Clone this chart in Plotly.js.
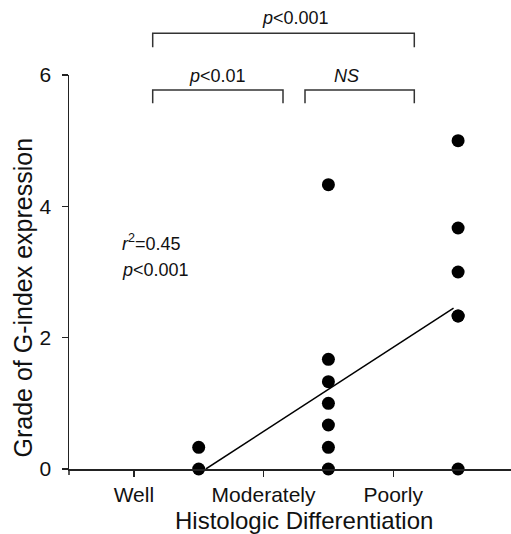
<!DOCTYPE html>
<html>
<head>
<meta charset="utf-8">
<script src="https://cdn.plot.ly/plotly-3.0.1.min.js"></script>
<style>html,body{margin:0;padding:0;background:#fff;}#chart{width:511px;height:534px;}</style>
</head>
<body>
<div id="chart"></div>
<script>
// ---- data ----
const categories = ['Well', 'Moderately', 'Poorly'];
const tickPositions = [1, 2, 3];
const wellGrades = [0.33, 0];
const moderateGrades = [4.33, 1.67, 1.33, 1.0, 0.67, 0.33, 0];
const poorGrades = [5.0, 3.67, 3.0, 2.33, 2.33, 0];
const fitX = [1.555, 3.465];
const fitY = [0, 2.45];
const yTicks = [0, 2, 4, 6];
const xTitle = 'Histologic Differentiation';
const yTitle = 'Grade of G-index expression';

const groups = [wellGrades, moderateGrades, poorGrades];
const px = [], py = [];
groups.forEach((g, i) => g.forEach(v => { px.push(tickPositions[i] + 0.5); py.push(v); }));

const font = 'Arial, "Liberation Sans", Helvetica, sans-serif';
const L = 69, R = 511, T = 75, B = 469;
const xp = p => (p - L) / (R - L);
const yp = p => (B - p) / (B - T);

const lineColor = '#222';
const bracketColor = '#333';
function bracket(x0, x1, yTop, yBot) {
  return {
    type: 'path', xref: 'paper', yref: 'paper',
    path: `M ${xp(x0)} ${yp(yBot)} L ${xp(x0)} ${yp(yTop)} L ${xp(x1)} ${yp(yTop)} L ${xp(x1)} ${yp(yBot)}`,
    line: {color: bracketColor, width: 1.5}
  };
}

const traces = [
  {x: px, y: py, type: 'scatter', mode: 'markers', cliponaxis: false,
   marker: {color: '#000', size: 13}, hoverinfo: 'none'},
  {x: fitX, y: fitY, type: 'scatter', mode: 'lines', cliponaxis: false,
   line: {color: '#000', width: 1.5}, hoverinfo: 'none'}
];

const annFont = {family: font, size: 18, color: '#111'};
const titleFont = {family: font, size: 24, color: '#111'};
const layout = {
  width: 511, height: 534,
  margin: {l: L, r: 0, t: T, b: 534 - B},
  paper_bgcolor: '#fff', plot_bgcolor: '#fff',
  showlegend: false,
  font: {family: font, color: '#111'},
  xaxis: {
    range: [0.5, 0.5 + (R - L) / 129.7],
    tickvals: tickPositions,
    ticktext: categories,
    ticks: 'outside', ticklen: 6, tickwidth: 1.5, tickcolor: lineColor,
    showline: true, linecolor: lineColor, linewidth: 1.5,
    showgrid: false, zeroline: false,
    tickfont: {family: font, size: 21, color: '#111'}
  },
  yaxis: {
    range: [0, 6],
    tickvals: yTicks,
    ticks: 'outside', ticklen: 6, tickwidth: 1.5, tickcolor: lineColor,
    showline: true, linecolor: lineColor, linewidth: 1.5,
    showgrid: false, zeroline: false, ticklabelstandoff: 6,
    tickfont: {family: font, size: 21, color: '#111'}
  },
  shapes: [
    {type: 'line', xref: 'paper', yref: 'paper', x0: 0, x1: 0, y0: 0, y1: -6 / (B - T),
     line: {color: lineColor, width: 1.5}},
    bracket(152.7, 414.3, 33.3, 47.3),
    bracket(152.7, 283, 90, 103.3),
    bracket(305, 414.3, 90, 103.3)
  ],
  annotations: [
    {xref: 'paper', yref: 'paper', x: xp(303.5), y: yp(520), text: xTitle, showarrow: false, xanchor: 'center', yanchor: 'middle', font: titleFont},
    {xref: 'paper', yref: 'paper', x: xp(22), y: yp(297.5), text: yTitle, textangle: -90, showarrow: false, xanchor: 'center', yanchor: 'middle', font: {family: font, size: 25, color: '#111'}},
    {xref: 'paper', yref: 'paper', x: xp(295), y: yp(18), text: '<i>p</i>&lt;0.001', showarrow: false, xanchor: 'center', yanchor: 'middle', font: annFont},
    {xref: 'paper', yref: 'paper', x: xp(217), y: yp(76), text: '<i>p</i>&lt;0.01', showarrow: false, xanchor: 'center', yanchor: 'middle', font: annFont},
    {xref: 'paper', yref: 'paper', x: xp(346), y: yp(76), text: '<i>NS</i>', showarrow: false, xanchor: 'center', yanchor: 'middle', font: annFont},
    {xref: 'paper', yref: 'paper', x: xp(120), y: yp(242), text: '<i>r</i><sup>2</sup>=0.45', showarrow: false, xanchor: 'left', yanchor: 'middle', font: annFont},
    {xref: 'paper', yref: 'paper', x: xp(120), y: yp(270), text: '<i>p</i>&lt;0.001', showarrow: false, xanchor: 'left', yanchor: 'middle', font: annFont}
  ]
};

Plotly.newPlot('chart', traces, layout, {staticPlot: true, displayModeBar: false});
</script>
</body>
</html>
